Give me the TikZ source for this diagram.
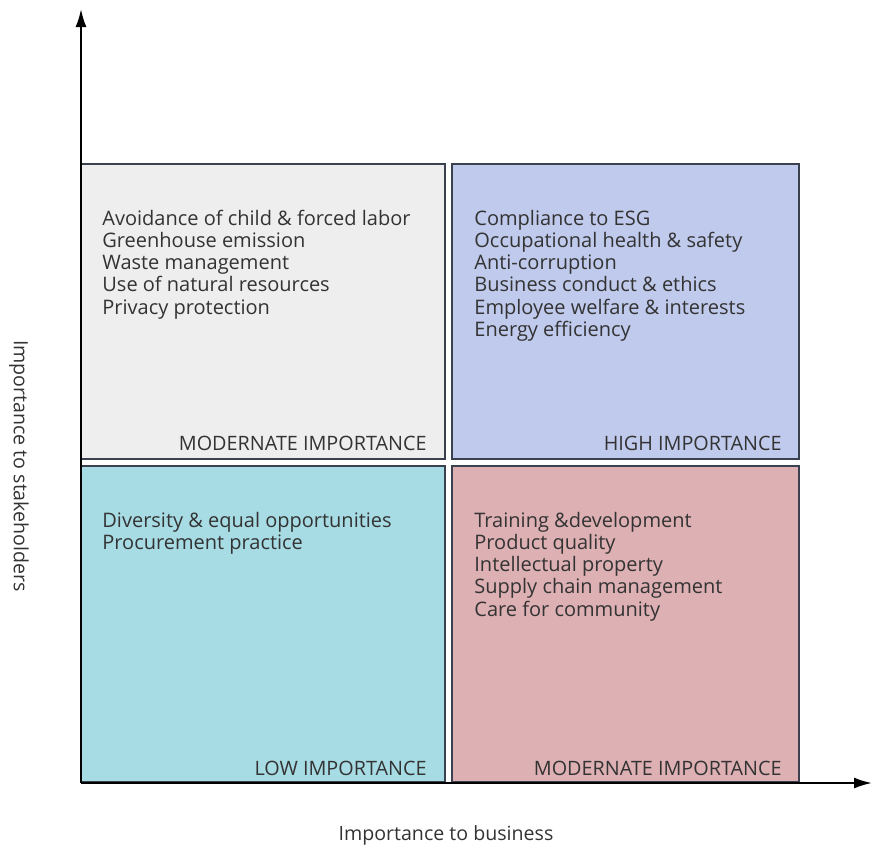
\documentclass[tikz,border=0pt]{standalone}
\usepackage{fontspec}
\setmainfont{Open Sans}
\usepackage{tikz}
\usetikzlibrary{arrows.meta,calc,positioning}

\definecolor{inkgray}{HTML}{333333}
\definecolor{framegray}{HTML}{3C4150}
\definecolor{paleGray}{HTML}{EEEEEE}
\definecolor{paleBlue}{HTML}{C0CAEC}
\definecolor{paleCyan}{HTML}{A8DCE5}
\definecolor{palePink}{HTML}{DDB0B4}

\tikzset{
  quad/.style={draw=framegray,line width=0.7pt,inner sep=0pt,outer sep=0pt,anchor=north west,minimum width=#1},
  item/.style={text=inkgray,inner sep=0pt,anchor=base west,font=\fontsize{10}{11}\selectfont},
  rank/.style={text=inkgray,inner sep=0pt,anchor=base east,font=\fontsize{9.9}{11}\selectfont},
  axislabel/.style={text=inkgray,inner sep=0pt,font=\fontsize{9.8}{11}\selectfont},
  axis/.style={line width=1pt,-{Latex[length=9pt,width=5.5pt]}}
}

\begin{document}
\begin{tikzpicture}[x=0.5pt,y=-0.5pt]
	\useasboundingbox (0,0) rectangle (872,846);

	% quadrants
	\node[quad=182pt,minimum height=147.5pt,fill=paleGray] (tl) at (81,164) {};
	\node[quad=173.5pt,minimum height=147.5pt,fill=paleBlue] (tr) at (452,164) {};
	\node[quad=182pt,minimum height=158pt,fill=paleCyan] (bl) at (81,466) {};
	\node[quad=173.5pt,minimum height=158pt,fill=palePink] (br) at (452,466) {};

	% axes
	\coordinate (origin) at (81,783);
	\coordinate (ytip) at (81,9);
	\coordinate (xtip) at (872,783);
	\draw[axis] (origin) -- (ytip);
	\draw[axis] (origin) -- (xtip);

	\node[axislabel,rotate=-90] (ylab) at (19,466) {Importance to stakeholders};
	\node[axislabel,anchor=base] (xlab) at (446,840) {Importance to business};

	% issues per quadrant
	\foreach \t [count=\i] in {Avoidance of child \& forced labor,Greenhouse emission,Waste management,Use of natural resources,Privacy protection}
		\node[item] (tl\i) at (102,225+22.3*\i-22.3) {\t};
	\foreach \t [count=\i] in {Compliance to ESG,Occupational health \& safety,Anti-corruption,Business conduct \& ethics,Employee welfare \& interests,Energy efficiency}
		\node[item] (tr\i) at (474,225+22.3*\i-22.3) {\t};
	\foreach \t [count=\i] in {Diversity \& equal opportunities,Procurement practice}
		\node[item] (bl\i) at (102,527+22.3*\i-22.3) {\t};
	\foreach \t [count=\i] in {Training \&development,Product quality,Intellectual property,Supply chain management,Care for community}
		\node[item] (br\i) at (474,527+22.3*\i-22.3) {\t};

	\node[rank] (tlrank) at (427,450) {MODERNATE IMPORTANCE};
	\node[rank] (trrank) at (782,450) {HIGH IMPORTANCE};
	\node[rank] (blrank) at (427,775) {LOW IMPORTANCE};
	\node[rank] (brrank) at (782,775) {MODERNATE IMPORTANCE};
\end{tikzpicture}
\end{document}
